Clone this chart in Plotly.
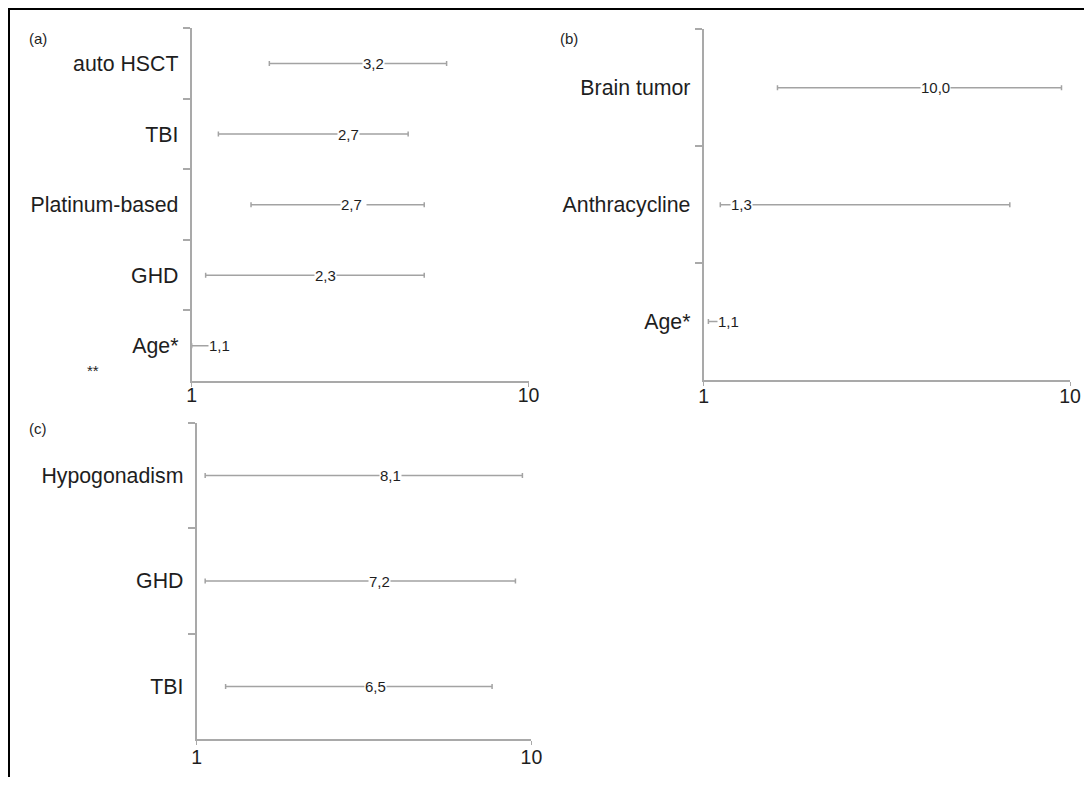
import numpy as np
import plotly.graph_objects as go

# ---------------- data ----------------
# Panel (a)
a_labels = ["auto HSCT", "TBI", "Platinum-based", "GHD", "Age*"]
a_point = [3.2, 2.7, 2.75, 2.3, 1.12]
a_lower = [1.70, 1.20, 1.50, 1.10, 1.00]
a_upper = [5.71, 4.39, 4.90, 4.90, 1.20]
a_text = ["3,2", "2,7", "2,7\u00a0", "2,3", "1,1"]

# Panel (b)
b_labels = ["Brain tumor", "Anthracycline", "Age*"]
b_point = [3.9, 1.18, 1.09]
b_lower = [1.59, 1.11, 1.03]
b_upper = [9.48, 6.85, 1.12]
b_text = ["10,0", "1,3", "1,1"]

# Panel (c)
c_labels = ["Hypogonadism", "GHD", "TBI"]
c_point = [3.5, 3.24, 3.17]
c_lower = [1.06, 1.06, 1.22]
c_upper = [9.40, 8.96, 7.63]
c_text = ["8,1", "7,2", "6,5"]

x_tickvals = [1, 10]
x_ticktext = ["1", "10"]

# ---------------- style ----------------
PAGE_W, PAGE_H = 1092, 785
OFF = 8  # default page body margin
W, H = PAGE_W - 2 * OFF, PAGE_H - 2 * OFF
FONT = "Liberation Sans, Arial, Helvetica, sans-serif"
AXIS_GRAY = "#a9a9a9"
BAR_GRAY = "#a3a3a3"
TXT = "#1e1e1e"


def px_x(p):
    return (p - OFF) / W


def px_y(p):
    return 1 - (p - OFF) / H


panels = [
    dict(labels=a_labels, point=a_point, lo=a_lower, hi=a_upper, text=a_text,
         xd=[px_x(191.7), px_x(528.6)], yd=[px_y(381), px_y(28.3)], grid=AXIS_GRAY,
         standoff=-8),
    dict(labels=b_labels, point=b_point, lo=b_lower, hi=b_upper, text=b_text,
         xd=[px_x(703.7), px_x(1070)], yd=[px_y(380), px_y(29.3)], grid="#e4e4e4",
         standoff=-6),
    dict(labels=c_labels, point=c_point, lo=c_lower, hi=c_upper, text=c_text,
         xd=[px_x(196.7), px_x(531.4)], yd=[px_y(739.3), px_y(422.7)], grid=AXIS_GRAY,
         standoff=-5),
]

fig = go.Figure()
annotations = []
layout = {}

for i, p in enumerate(panels, start=1):
    sfx = "" if i == 1 else str(i)
    xa, ya = "x" + sfx, "y" + sfx
    point = np.array(p["point"])
    lo = np.array(p["lo"])
    hi = np.array(p["hi"])
    fig.add_trace(go.Scatter(
        x=point, y=p["labels"], xaxis=xa, yaxis=ya, mode="markers",
        marker=dict(size=1, opacity=0),
        error_x=dict(type="data", symmetric=False, array=hi - point,
                     arrayminus=point - lo, color=BAR_GRAY, thickness=1.5, width=2.5),
        showlegend=False, hoverinfo="skip",
    ))
    for lab, pt, tx in zip(p["labels"], p["point"], p["text"]):
        annotations.append(dict(
            x=np.log10(pt), y=lab, xref=xa, yref=ya, text=tx, showarrow=False,
            xanchor="left", yanchor="middle", bgcolor="white", borderpad=0,
            font=dict(family=FONT, size=15, color=TXT),
        ))
    n = len(p["labels"])
    layout["xaxis" + sfx] = dict(
        domain=p["xd"], anchor=ya, type="log", range=[0, 1],
        tickvals=x_tickvals, ticktext=x_ticktext, ticks="outside", ticklen=4,
        tickcolor=AXIS_GRAY, showline=True, linecolor=AXIS_GRAY, linewidth=2,
        showgrid=True, gridcolor=p["grid"], gridwidth=1.5, zeroline=False,
        ticklabelstandoff=p["standoff"],
        tickfont=dict(family=FONT, size=19.5, color=TXT), automargin=False,
        fixedrange=True,
    )
    layout["yaxis" + sfx] = dict(
        domain=p["yd"], anchor=xa, type="category", categoryorder="array",
        categoryarray=p["labels"], range=[n - 0.5, -0.5],
        tickson="boundaries", ticks="outside", ticklen=7, tickcolor=AXIS_GRAY,
        tickwidth=1.5, showline=True, linecolor=AXIS_GRAY, linewidth=2,
        showgrid=False, zeroline=False, ticklabelstandoff=7,
        tickfont=dict(family=FONT, size=21.3, color=TXT), automargin=False,
        fixedrange=True,
    )

# panel letters and footnote mark
for txt, x, y in [("(a)", 38, 38), ("(b)", 568.5, 38), ("(c)", 38, 428), ("**", 93, 370)]:
    annotations.append(dict(
        x=px_x(x), y=px_y(y), xref="paper", yref="paper", text=txt, showarrow=False,
        xanchor="center", yanchor="middle",
        font=dict(family=FONT, size=15, color=TXT),
    ))

shapes = [
    dict(type="line", xref="paper", yref="paper", x0=0, x1=1.0,
         y0=1 - 1 / H, y1=1 - 1 / H, line=dict(color="black", width=2)),
    dict(type="line", xref="paper", yref="paper", x0=1 / W, x1=1 / W,
         y0=1, y1=0, line=dict(color="black", width=2)),
]

fig.update_layout(
    width=W, height=H, margin=dict(l=0, r=0, t=0, b=0),
    paper_bgcolor="white", plot_bgcolor="white",
    annotations=annotations, shapes=shapes, showlegend=False,
    font=dict(family=FONT, color=TXT),
    **layout,
)

fig.write_html("out.html")
